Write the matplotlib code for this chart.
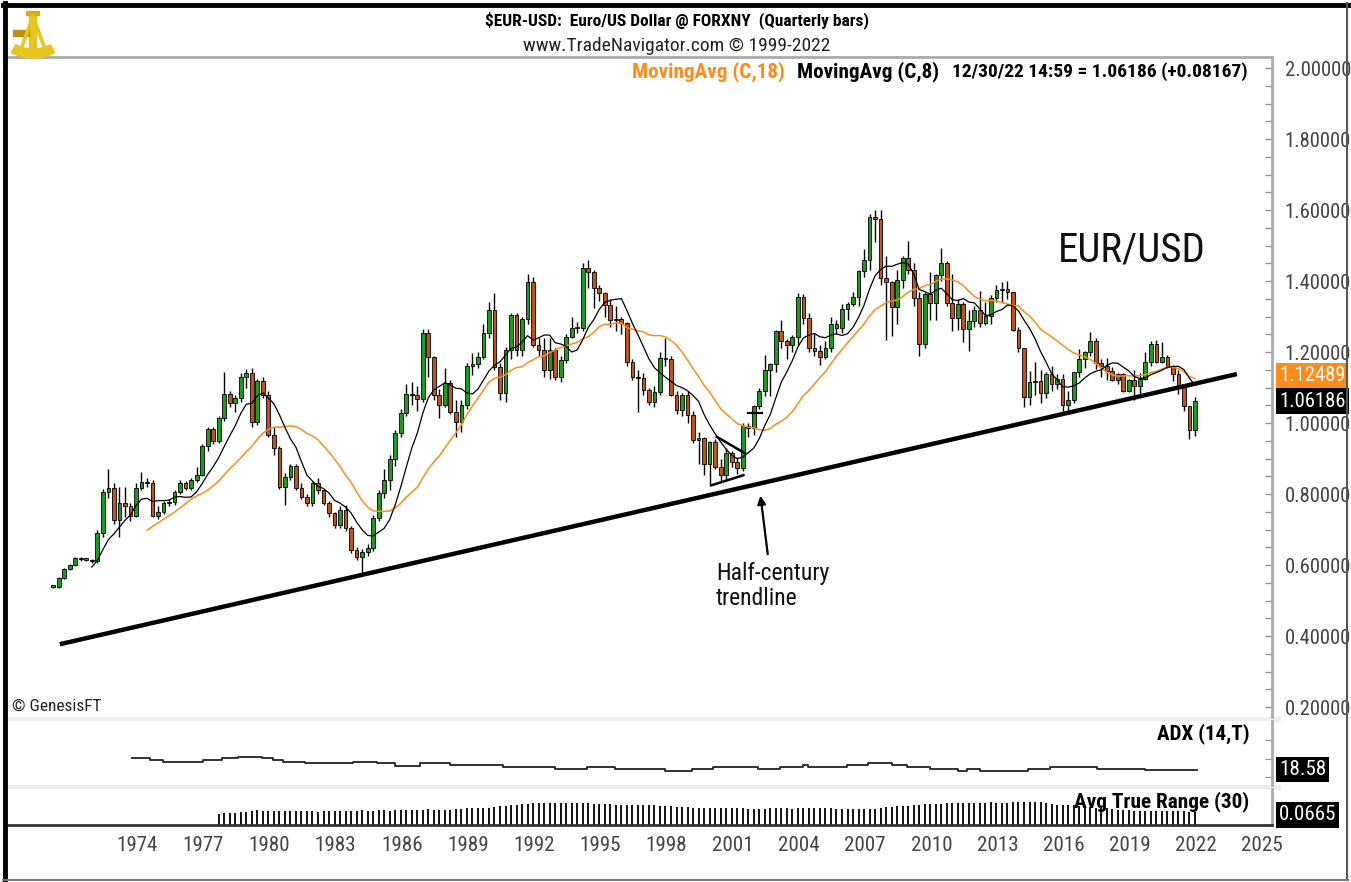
import numpy as np
import pandas as pd
import matplotlib
matplotlib.use('Agg')
import matplotlib.pyplot as plt
import matplotlib.transforms as mtrans
from matplotlib import font_manager
from matplotlib.patches import Rectangle, Wedge
from matplotlib.lines import Line2D

# the chart uses a narrow sans; take one if it is installed, else plain Liberation Sans
installed = {f.name for f in font_manager.fontManager.ttflist}
narrow = [n for n in ['Liberation Sans Narrow', 'Arial Narrow', 'Roboto Condensed'] if n in installed]
if narrow:
    plt.rcParams['font.family'] = [narrow[0], 'DejaVu Sans']
    k = 1.18
else:
    plt.rcParams['font.family'] = ['Liberation Sans', 'DejaVu Sans']
    k = 1.0

# quarterly bars of EUR/USD, first bar is Q1 1971
start_year = 1971
closes = [
    0.539, 0.563, 0.589, 0.600,  0.619, 0.617, 0.615, 0.611,  0.689, 0.807, 0.816, 0.727,   # 71-73
    0.774, 0.767, 0.739, 0.818,  0.835, 0.830, 0.739, 0.750,  0.774, 0.777, 0.807, 0.832,   # 74-76
    0.816, 0.840, 0.854, 0.935,  0.982, 0.950, 1.013, 1.081,  1.056, 1.070, 1.131, 1.140,   # 77-79
    1.004, 1.117, 1.079, 0.966,  0.929, 0.821, 0.849, 0.879,  0.816, 0.793, 0.774, 0.830,   # 80-82
    0.810, 0.774, 0.746, 0.713,  0.755, 0.703, 0.642, 0.624,  0.638, 0.647, 0.732, 0.802,   # 83-85
    0.840, 0.900, 0.973, 1.027,  1.082, 1.079, 1.067, 1.253,  1.187, 1.079, 1.051, 1.112,   # 86-88
    1.032, 1.004, 1.051, 1.161,  1.166, 1.187, 1.254, 1.318,  1.159, 1.084, 1.206, 1.304,   # 89-91
    1.206, 1.294, 1.398, 1.220,  1.206, 1.149, 1.206, 1.131,  1.177, 1.243, 1.269, 1.267,   # 92-94
    1.436, 1.426, 1.379, 1.367,  1.332, 1.290, 1.292, 1.281,  1.173, 1.131, 1.126, 1.093,   # 95-97
    1.060, 1.088, 1.182, 1.180,  1.079, 1.037, 1.079, 1.023,  0.952, 0.957, 0.886, 0.947,   # 98-00
    0.877, 0.853, 0.915, 0.890,  0.872, 0.991, 0.987, 1.049,  1.091, 1.149, 1.165, 1.260,   # 01-03
    1.232, 1.219, 1.242, 1.356,  1.296, 1.210, 1.203, 1.185,  1.212, 1.279, 1.268, 1.320,   # 04-06
    1.335, 1.354, 1.427, 1.459,  1.579, 1.576, 1.409, 1.397,  1.328, 1.403, 1.464, 1.432,   # 07-09
    1.351, 1.224, 1.363, 1.338,  1.417, 1.450, 1.339, 1.296,  1.334, 1.266, 1.286, 1.319,   # 10-12
    1.282, 1.301, 1.352, 1.374,  1.377, 1.369, 1.263, 1.210,  1.073, 1.115, 1.118, 1.086,   # 13-15
    1.138, 1.111, 1.124, 1.052,  1.065, 1.143, 1.181, 1.201,  1.232, 1.168, 1.160, 1.147,   # 16-18
    1.122, 1.137, 1.090, 1.121,  1.103, 1.123, 1.172, 1.222,  1.173, 1.186, 1.158, 1.137,   # 19-21
    1.107, 1.048, 0.98019, 1.06186,                                                         # 22
]
highs = [
    0.542, 0.566, 0.592, 0.604,  0.622, 0.624, 0.620, 0.616,  0.700, 0.815, 0.870, 0.830,
    0.820, 0.820, 0.775, 0.830,  0.863, 0.845, 0.840, 0.765,  0.780, 0.785, 0.812, 0.840,
    0.838, 0.845, 0.875, 0.940,  0.990, 0.990, 1.020, 1.145,  1.090, 1.080, 1.140, 1.152,
    1.155, 1.125, 1.130, 1.090,  0.990, 0.935, 0.860, 0.885,  0.885, 0.830, 0.800, 0.835,
    0.845, 0.815, 0.780, 0.750,  0.765, 0.770, 0.710, 0.650,  0.645, 0.660, 0.740, 0.810,
    0.870, 0.910, 0.980, 1.040,  1.110, 1.115, 1.105, 1.265,  1.265, 1.190, 1.095, 1.155,
    1.120, 1.065, 1.065, 1.170,  1.196, 1.200, 1.280, 1.340,  1.365, 1.170, 1.215, 1.310,
    1.310, 1.300, 1.420, 1.410,  1.240, 1.240, 1.240, 1.210,  1.190, 1.250, 1.300, 1.285,
    1.450, 1.460, 1.430, 1.390,  1.370, 1.350, 1.330, 1.300,  1.285, 1.180, 1.150, 1.140,
    1.100, 1.105, 1.200, 1.240,  1.190, 1.090, 1.085, 1.090,  1.035, 0.975, 0.960, 0.950,
    0.955, 0.900, 0.930, 0.920,  0.905, 1.000, 1.000, 1.050,  1.100, 1.193, 1.170, 1.262,
    1.290, 1.236, 1.248, 1.367,  1.363, 1.310, 1.250, 1.220,  1.230, 1.300, 1.290, 1.335,
    1.340, 1.368, 1.430, 1.490,  1.590, 1.600, 1.600, 1.470,  1.400, 1.430, 1.470, 1.514,
    1.450, 1.370, 1.370, 1.425,  1.420, 1.494, 1.455, 1.420,  1.349, 1.340, 1.317, 1.330,
    1.371, 1.342, 1.360, 1.389,  1.397, 1.399, 1.370, 1.270,  1.212, 1.147, 1.171, 1.149,
    1.143, 1.162, 1.137, 1.137,  1.091, 1.145, 1.209, 1.204,  1.256, 1.240, 1.181, 1.182,
    1.157, 1.141, 1.141, 1.124,  1.150, 1.142, 1.201, 1.230,  1.235, 1.227, 1.191, 1.164,
    1.150, 1.110, 1.040, 1.074,
]
lows = [
    0.535, 0.536, 0.560, 0.585,  0.597, 0.612, 0.610, 0.607,  0.605, 0.680, 0.790, 0.715,
    0.678, 0.736, 0.725, 0.735,  0.810, 0.820, 0.735, 0.730,  0.745, 0.765, 0.770, 0.800,
    0.810, 0.812, 0.835, 0.850,  0.920, 0.940, 0.945, 1.005,  1.045, 1.030, 1.060, 1.100,
    0.990, 0.995, 1.070, 0.960,  0.910, 0.815, 0.770, 0.840,  0.810, 0.785, 0.765, 0.765,
    0.800, 0.768, 0.735, 0.705,  0.705, 0.695, 0.635, 0.615,  0.577, 0.625, 0.640, 0.725,
    0.790, 0.810, 0.880, 0.960,  1.020, 1.050, 1.035, 1.060,  1.130, 1.065, 1.015, 1.045,
    1.025, 0.960, 0.975, 1.040,  1.135, 1.155, 1.180, 1.240,  1.150, 1.065, 1.060, 1.180,
    1.190, 1.190, 1.280, 1.215,  1.190, 1.130, 1.125, 1.120,  1.115, 1.170, 1.240, 1.255,
    1.260, 1.380, 1.325, 1.345,  1.300, 1.270, 1.260, 1.250,  1.160, 1.120, 1.030, 1.080,
    1.050, 1.045, 1.080, 1.160,  1.075, 1.025, 1.020, 1.000,  0.945, 0.885, 0.855, 0.822,
    0.870, 0.835, 0.840, 0.875,  0.856, 0.865, 0.960, 0.965,  1.040, 1.075, 1.076, 1.145,
    1.210, 1.180, 1.200, 1.220,  1.280, 1.200, 1.190, 1.164,  1.180, 1.200, 1.250, 1.255,
    1.290, 1.330, 1.330, 1.410,  1.430, 1.510, 1.390, 1.233,  1.246, 1.280, 1.380, 1.420,
    1.330, 1.188, 1.210, 1.290,  1.290, 1.400, 1.330, 1.260,  1.263, 1.229, 1.204, 1.270,
    1.270, 1.275, 1.280, 1.340,  1.340, 1.350, 1.260, 1.200,  1.046, 1.050, 1.080, 1.056,
    1.071, 1.091, 1.095, 1.035,  1.034, 1.057, 1.130, 1.155,  1.190, 1.151, 1.130, 1.122,
    1.118, 1.110, 1.088, 1.088,  1.064, 1.077, 1.120, 1.160,  1.170, 1.170, 1.156, 1.119,
    1.081, 1.035, 0.954, 0.963,
]

# ADX (14,T) read as steps: year where the level starts, level
adx_years = [1974.55, 1975.38, 1975.99, 1977.80, 1978.63, 1979.39, 1980.45, 1980.97,
             1981.43, 1982.41, 1984.60, 1985.66, 1986.49, 1987.62, 1988.98, 1991.40,
             1993.74, 1995.18, 1996.46, 1998.73, 1999.94, 2000.92, 2002.96, 2003.94,
             2005.00, 2005.23, 2006.97, 2007.94, 2009.00, 2009.69, 2010.74, 2012.03,
             2012.41, 2013.01, 2015.20, 2016.18, 2018.30, 2020.49, 2022.83]
adx_vals = [25.1, 24.2, 23.3, 24.2, 25.1, 26.0, 25.1, 24.2,
            23.3, 22.4, 23.3, 22.4, 21.1, 22.4, 21.5, 20.6,
            19.5, 20.6, 19.5, 18.4, 19.5, 20.6, 19.3, 20.6,
            21.6, 20.6, 21.6, 22.7, 21.5, 20.6, 19.5, 18.4,
            19.5, 18.4, 19.5, 20.6, 19.5, 18.58, 18.58]

year_labels = list(range(1974, 2026, 3))

W, H = 1351, 882
fig = plt.figure(figsize=(W / 100, H / 100), dpi=100)


def box(x0, y0, x1, y1):
    # pixel box (top-left origin) -> figure fraction rect
    return [x0 / W, 1 - y1 / H, (x1 - x0) / W, (y1 - y0) / H]


ax = fig.add_axes(box(8, 57, 1272, 717))
ax_adx = fig.add_axes(box(8, 721, 1272, 785), sharex=ax)
ax_atr = fig.add_axes(box(8, 789, 1272, 825), sharex=ax)

c = np.array(closes)
o = np.r_[c[0], c[:-1]]
h = np.maximum(np.array(highs), np.maximum(o, c))
l = np.minimum(np.array(lows), np.minimum(o, c))
t = start_year + np.arange(len(c)) / 4.0

green = '#1e9a1e'
red = '#c4501c'
cols = np.where(c >= o, green, red)

# candles
ax.vlines(t, l, h, color='black', lw=1.0, zorder=2)
ax.bar(t, np.maximum(np.abs(c - o), 0.004), bottom=np.minimum(o, c), width=0.17,
       color=cols, edgecolor='black', linewidth=0.6, zorder=3)

s = pd.Series(c)
ma8 = s.rolling(8).mean()
ma18 = s.rolling(18).mean()
ax.plot(t, ma18, color='#ff8c1a', lw=1.1, zorder=4)
ax.plot(t, ma8, color='black', lw=0.9, zorder=4)

# half-century trendline and the small wedge lines
ax.plot([1971.3, 2024.65], [0.377, 1.138], color='black', lw=3.2, solid_capstyle='butt', zorder=5)
ax.plot([2001.08, 2002.35], [0.961, 0.915], color='black', lw=1.8, zorder=5)
ax.plot([2000.85, 2002.28], [0.825, 0.853], color='black', lw=1.8, zorder=5)
ax.plot([2002.49, 2003.12], [1.029, 1.029], color='black', lw=1.6, zorder=5)

ax.annotate('', xy=(2003.04, 0.803), xytext=(2003.4, 0.623),
            arrowprops=dict(arrowstyle='-|>', color='black', lw=1.6, mutation_scale=12))
ax.text(2001.05, 0.608, 'Half-century\ntrendline', fontsize=15.5 * (1.1 if k > 1 else 1),
        ha='left', va='top', linespacing=1.12, color='#111111')
ax.text(2016.54, 1.487, 'EUR/USD', fontsize=25 * k, ha='left', va='center', color='#111111')

ax.set_xlim(1968.95, 2026.24)
ax.set_ylim(0.172, 2.031)
ax.yaxis.tick_right()
ax.set_yticks(np.arange(0.2, 2.01, 0.2))
ax.set_yticks(np.arange(0.2, 2.01, 0.05), minor=True)
ax.yaxis.set_major_formatter(matplotlib.ticker.FormatStrFormatter('%.5f'))
ax.tick_params(axis='y', which='both', direction='in', length=5, width=1, color='#909090',
               labelsize=12.6 * k, labelcolor='#444444', pad=9)
ax.tick_params(axis='x', which='both', bottom=False, labelbottom=False)
for sp in ['left', 'bottom']:
    ax.spines[sp].set_visible(False)
for sp in ['top', 'right']:
    ax.spines[sp].set_color('#aaaaaa')
    ax.spines[sp].set_linewidth(2)

# value boxes on the price axis
tr = mtrans.blended_transform_factory(ax.transAxes, ax.transData)
ax.text(1.0055, ma18.iloc[-1] + 0.01, '%.5f' % ma18.iloc[-1], transform=tr, fontsize=12.6 * k,
        color='white', ha='left', va='center',
        bbox=dict(boxstyle='square,pad=0.15', fc='#ff8c1a', ec='none'))
ax.text(1.0055, c[-1], '%.5f' % c[-1], transform=tr, fontsize=12.6 * k, color='white',
        ha='left', va='center', bbox=dict(boxstyle='square,pad=0.15', fc='black', ec='none'))

# ADX panel
ax_adx.plot(adx_years, adx_vals, drawstyle='steps-post', color='#222222', lw=1.3)
ax_adx.set_ylim(10.7, 45.3)
ax_adx.yaxis.tick_right()
ax_adx.set_yticks([15, 25, 35])
ax_adx.tick_params(axis='y', direction='in', length=5, color='#909090', labelright=False)
ax_adx.tick_params(axis='x', bottom=False, labelbottom=False)
for sp in ['left', 'bottom', 'top']:
    ax_adx.spines[sp].set_visible(False)
ax_adx.spines['right'].set_color('#aaaaaa')
ax_adx.spines['right'].set_linewidth(2)
ax_adx.text(0.982, 0.8, 'ADX (14,T)', transform=ax_adx.transAxes, fontsize=12.8 * k,
            fontweight='bold', ha='right', va='center')
tr2 = mtrans.blended_transform_factory(ax_adx.transAxes, ax_adx.transData)
ax_adx.text(1.0055, adx_vals[-1] + 0.5, '%.2f' % adx_vals[-1], transform=tr2, fontsize=12.8 * k,
            color='white', ha='left', va='center',
            bbox=dict(boxstyle='square,pad=0.15', fc='black', ec='none'))

# ATR panel, simple 30-bar average of the true range (first bar has no previous close)
prev = np.r_[np.nan, c[:-1]]
tr_range = np.max(np.vstack([h - l, np.abs(h - prev), np.abs(l - prev)]), axis=0)
atr = pd.Series(tr_range).rolling(30).mean()
ax_atr.vlines(t, 0, atr, color='black', lw=1.3)
ax_atr.set_ylim(0, 0.18)
ax_atr.set_yticks([])
for sp in ['left', 'top']:
    ax_atr.spines[sp].set_visible(False)
ax_atr.spines['right'].set_color('#aaaaaa')
ax_atr.spines['right'].set_linewidth(2)
ax_atr.spines['bottom'].set_color('#333333')
ax_atr.spines['bottom'].set_linewidth(2)
ax_atr.set_xticks([y + 0.8 for y in year_labels])
ax_atr.set_xticklabels([str(y) for y in year_labels])
ax_atr.tick_params(axis='x', length=0, labelsize=12.8 * k, labelcolor='#444444', pad=8)
ax_atr.text(0.982, 0.66, 'Avg True Range (30)', transform=ax_atr.transAxes, fontsize=13 * k,
            fontweight='bold', ha='right', va='center')
ax_atr.text(1.0055, 0.28, '0.0665', transform=ax_atr.transAxes, fontsize=12.8 * k, color='white',
            ha='left', va='center', bbox=dict(boxstyle='square,pad=0.15', fc='black', ec='none'))

# separators between panels
for y0 in (717, 785):
    fig.add_artist(Rectangle((8 / W, 1 - (y0 + 4) / H), 1272 / W, 4 / H,
                             transform=fig.transFigure, color='#eeeeee', zorder=0))

# header texts
fig.text(677 / W, 1 - 20 / H, '\\$EUR-USD:  Euro/US Dollar @ FORXNY  (Quarterly bars)',
         fontsize=10.6 * k, fontweight='bold', ha='center', va='center')
fig.text(677 / W, 1 - 46 / H, 'www.TradeNavigator.com \u00a9 1999-2022', fontsize=11.9 * k,
         ha='center', va='center', color='#222222')
fig.text(632 / W, 1 - 72 / H, 'MovingAvg (C,18)', fontsize=12.9 * k, fontweight='bold',
         color='#ff8c1a', ha='left', va='center')
fig.text(797 / W, 1 - 72 / H, 'MovingAvg (C,8)', fontsize=12.9 * k, fontweight='bold',
         ha='left', va='center')
fig.text(1248 / W, 1 - 72 / H, '12/30/22 14:59 = 1.06186 (+0.08167)', fontsize=11.9 * k,
         fontweight='bold', ha='right', va='center')
fig.text(12 / W, 1 - 706 / H, '\u00a9 GenesisFT', fontsize=10.5 * k, ha='left', va='center',
         color='#222222')

# little gold logo
lg = fig.add_axes(box(10, 8, 56, 64))
lg.set_xlim(0, 46)
lg.set_ylim(56, 0)
lg.axis('off')
gold = '#e8c420'
lg.add_patch(Wedge((23, 4), 46, 62, 118, width=9, color=gold))
lg.add_patch(Rectangle((19, 4), 7, 46, color=gold))
lg.add_patch(Rectangle((16, 3), 13, 4, color='#d4ae12'))
lg.add_patch(Rectangle((3, 22), 16, 6, color='#b89412'))
lg.plot([23, 10], [8, 44], color=gold, lw=2.5)
lg.plot([23, 36], [8, 44], color=gold, lw=2.5)

# frame of the screenshot
fig.add_artist(Line2D([3 / W, 1348 / W], [1 - 5 / H, 1 - 5 / H], transform=fig.transFigure,
                      color='black', lw=3.5))
fig.add_artist(Line2D([5 / W, 5 / W], [1 - 3 / H, 1 - 880 / H], transform=fig.transFigure,
                      color='black', lw=3.5))
fig.add_artist(Line2D([1347 / W, 1347 / W], [1 - 3 / H, 1 - 880 / H], transform=fig.transFigure,
                      color='#555555', lw=1.5))
fig.add_artist(Line2D([3 / W, 1348 / W], [1 - 880 / H, 1 - 880 / H], transform=fig.transFigure,
                      color='#777777', lw=1.5))

fig.savefig('out.png', dpi=100)
